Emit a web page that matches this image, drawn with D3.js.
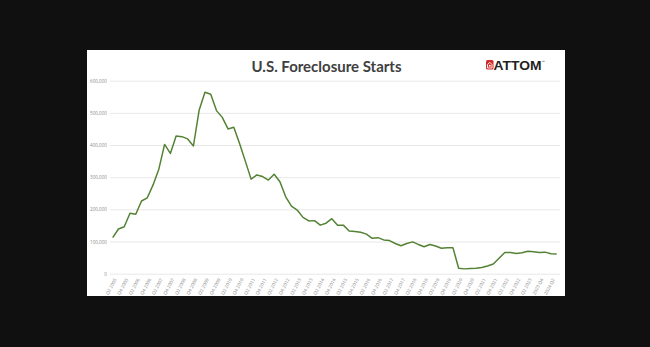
<!DOCTYPE html>
<html>
<head>
<meta charset="utf-8">
<script src="https://cdn.jsdelivr.net/npm/d3@7/dist/d3.min.js"></script>
<style>
  html, body { margin: 0; padding: 0; background: #101010; }
  svg { display: block; }
</style>
</head>
<body>
<svg id="chart" width="650" height="347"></svg>
<script>
// Quarterly U.S. foreclosure starts, Q2 2005 through Q3 2024
const quarters = [];
for (let y = 2005; y <= 2024; y++) {
  for (let q = 1; q <= 4; q++) {
    if ((y === 2005 && q < 2) || (y === 2024 && q > 3)) continue;
    quarters.push(`Q${q} ${y}`);
  }
}

const starts = [
  112000, 139000, 146000, 188000, 185000, 226000, 236000, 276000, 325000, 402000,
  374000, 428000, 426000, 419000, 397000, 509000, 564000, 558000, 507000, 486000,
  450000, 455000, 405000, 350000, 294000, 307000, 302000, 291000, 309000, 286000,
  239000, 210000, 198000, 175000, 164000, 165000, 151000, 157000, 171000, 151000,
  151000, 133000, 131000, 129000, 123000, 110000, 112000, 105000, 103000, 94000,
  87000, 94000, 99000, 91000, 84000, 91000, 86000, 79000, 81000, 81000,
  17000, 15000, 16000, 17000, 19000, 24000, 30000, 48000, 66000, 66000,
  63000, 65000, 70000, 68000, 66000, 67000, 62000, 61000
];

const yTicks = [0, 100000, 200000, 300000, 400000, 500000, 600000];

// Every other quarter is labelled; the last two use year-first labels
const tickLabel = q => {
  if (q === "Q4 2023") return "2023 Q4";
  if (q === "Q2 2024") return "2024 Q2";
  return q;
};
const labelledQuarters = quarters.filter((q, i) => i % 2 === 0);

const svg = d3.select("#chart");

// white card
svg.append("rect")
  .attr("x", 87).attr("y", 50)
  .attr("width", 478).attr("height", 246)
  .attr("fill", "#ffffff");

const x = d3.scalePoint().domain(quarters).range([112.7, 556.7]);
const y = d3.scaleLinear().domain([0, 600000]).range([273.7, 80.7]);

// gridlines + y labels
const yAxis = d3.axisLeft(y)
  .tickValues(yTicks)
  .tickSize(-450)
  .tickPadding(3)
  .tickFormat(d3.format(","));
const gy = svg.append("g").attr("transform", "translate(110,0)").call(yAxis);
gy.select(".domain").remove();
gy.selectAll(".tick line").attr("stroke", "#e8e8e8").attr("stroke-width", 1);
gy.selectAll(".tick text")
  .attr("fill", "#8a8a8a")
  .attr("font-family", "Open Sans, sans-serif")
  .attr("font-size", 4.6);

// x labels
const xAxis = d3.axisBottom(x)
  .tickValues(labelledQuarters)
  .tickSize(0)
  .tickFormat(tickLabel);
const gx = svg.append("g").attr("transform", "translate(0,276)").call(xAxis);
gx.select(".domain").remove();
gx.selectAll(".tick text")
  .attr("fill", "#8a8a8a")
  .attr("font-family", "Open Sans, sans-serif")
  .attr("font-size", 4.6)
  .attr("text-anchor", "end")
  .attr("dx", 0).attr("dy", 0)
  .attr("transform", "translate(1,2) rotate(-62)");

// series line
const line = d3.line()
  .x((d, i) => x(quarters[i]))
  .y(d => y(d));
svg.append("path")
  .datum(starts)
  .attr("d", line)
  .attr("fill", "none")
  .attr("stroke", "#548235")
  .attr("stroke-width", 1.5)
  .attr("stroke-linejoin", "round");

// title
svg.append("text")
  .attr("x", 326.5).attr("y", 72)
  .attr("text-anchor", "middle")
  .attr("font-family", "Lato, Open Sans, sans-serif")
  .attr("font-weight", 700)
  .attr("font-size", 16)
  .attr("fill", "#404040")
  .attr("textLength", 150)
  .attr("lengthAdjust", "spacingAndGlyphs")
  .text("U.S. Foreclosure Starts");

// brand mark
const logo = svg.append("g").attr("transform", "translate(486,60)");
logo.append("rect").attr("x", 0).attr("y", 0).attr("width", 7.5).attr("height", 9.5)
  .attr("rx", 1.5).attr("fill", "#d42a2a");
logo.append("path")
  .attr("d", "M1.5,8 L1.5,4.5 L3.8,2.3 L6,4.5 L6,8 Z")
  .attr("fill", "none").attr("stroke", "#ffffff").attr("stroke-width", 0.9);
logo.append("circle").attr("cx", 3.8).attr("cy", 5.8).attr("r", 1).attr("fill", "#ffffff");
svg.append("text")
  .attr("x", 493.5).attr("y", 69.5)
  .attr("font-family", "Liberation Sans, Arial, sans-serif")
  .attr("font-weight", 700)
  .attr("font-size", 13)
  .attr("fill", "#1f1f1f")
  .attr("textLength", 48)
  .attr("lengthAdjust", "spacingAndGlyphs")
  .text("ATTOM");
svg.append("text")
  .attr("x", 541.5).attr("y", 63)
  .attr("font-family", "Liberation Sans, Arial, sans-serif")
  .attr("font-size", 3.5)
  .attr("fill", "#1f1f1f")
  .text("™");
</script>
</body>
</html>
